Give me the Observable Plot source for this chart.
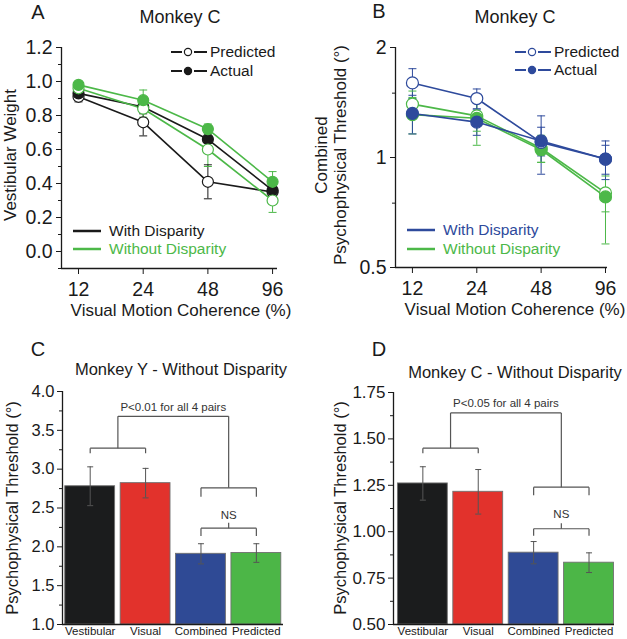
<!DOCTYPE html>
<html><head><meta charset="utf-8">
<script src="https://cdn.jsdelivr.net/npm/d3@7"></script>
<script src="https://cdn.jsdelivr.net/npm/@observablehq/plot@0.6"></script>
<style>
body{margin:0;background:#fff;}
#fig{position:relative;width:627px;height:639px;overflow:hidden;font-family:"Liberation Sans",Arial,sans-serif;color:#1a1a1a;background:#fff;}
#fig svg{position:absolute;}
.t{position:absolute;line-height:1;white-space:nowrap;transform:translate(-50%,-50%);}
.l{position:absolute;line-height:1;white-space:nowrap;transform:translate(0,-50%);}
.r{position:absolute;line-height:1;white-space:nowrap;transform:translate(-50%,-50%) rotate(-90deg);}
</style></head><body><div id="fig"></div>
<script>
// ---------- data ----------
const coherence = [12, 24, 48, 96];
// Panel A (Monkey C, vestibular weight)
const aPredWith = [0.91, 0.76, 0.41, 0.35];
const aPredWithErr = [0.03, 0.08, 0.10, 0.05];
const aActWith = [0.93, 0.85, 0.66, 0.36];
const aActWithErr = [0.03, 0.04, 0.04, 0.05];
const aPredWithout = [0.96, 0.84, 0.60, 0.30];
const aPredWithoutErr = [0.03, 0.05, 0.10, 0.07];
const aActWithout = [0.98, 0.89, 0.72, 0.41];
const aActWithoutErr = [0.02, 0.06, 0.03, 0.06];
// Panel B (Monkey C, combined threshold)
const bPredWith = [1.60, 1.45, 1.10, 0.99];
const bPredWithErr = [0.15, 0.09, 0.20, 0.09];
const bActWith = [1.32, 1.25, 1.11, 0.99];
const bActWithErr = [0.16, 0.10, 0.10, 0.12];
const bPredWithout = [1.40, 1.30, 1.06, 0.80];
const bPredWithoutErr = [0.12, 0.12, 0.09, 0.09];
const bActWithout = [1.31, 1.28, 1.05, 0.78];
const bActWithoutErr = [0.15, 0.20, 0.08, 0.20];
// Panels C, D (bar charts)
const cues = ["Vestibular", "Visual", "Combined", "Predicted"];
const cThreshold = [2.78, 2.82, 1.91, 1.92];
const cErr = [0.25, 0.19, 0.13, 0.12];
const dThreshold = [1.26, 1.215, 0.887, 0.833];
const dErr = [0.09, 0.12, 0.06, 0.053];
// tick values
const aYTicks = [0, 0.2, 0.4, 0.6, 0.8, 1.0, 1.2];
const aYMinor = [-0.1, 0.1, 0.3, 0.5, 0.7, 0.9, 1.1];
const bYTicks = [0.5, 1, 2];
const bYMinor = [0.75, 1.5];
const cYTicks = [1.0, 1.5, 2.0, 2.5, 3.0, 3.5, 4.0];
const cYMinor = [1.25, 1.75, 2.25, 2.75, 3.25, 3.75];
const dYTicks = [0.5, 0.75, 1.0, 1.25, 1.5, 1.75];
const dYMinor = [0.625, 0.875, 1.125, 1.375, 1.625];
// significance brackets (cue indices, heights in threshold units)
const cPairs = [{a:0,b:1,y:3.27,leg:0.065},{a:2,b:3,y:2.76,leg:0.115},{a:2,b:3,y:2.24,leg:0.10,stub:0.07,label:"NS",ly:2.40}];
const cTop = {y:3.68, label:"P<0.01 for all 4 pairs", ly:3.79};
const dPairs = [{a:0,b:1,y:1.45,leg:0.027},{a:2,b:3,y:1.24,leg:0.043},{a:2,b:3,y:1.016,leg:0.038,stub:0.03,label:"NS",ly:1.095}];
const dTop = {y:1.64, label:"P<0.05 for all 4 pairs", ly:1.69};

// ---------- styles ----------
const FONT = "Liberation Sans, Arial, sans-serif";
const INK = "#1a1a1a";
const GREEN = "#4cb848", BLUE = "#2e4a9c", BLACK = "#1a1a1a";
const barColors = ["#1b1c1d", "#e2322c", "#2f4a95", "#4cb647"];
const colA = {"With Disparity": BLACK, "Without Disparity": GREEN};
const colB = {"With Disparity": BLUE, "Without Disparity": GREEN};
const cap = {draw(ctx, size) { const r = Math.sqrt(size / Math.PI); ctx.moveTo(-r, 0); ctx.lineTo(r, 0); }};

function seriesRows(list) {
  return list.flatMap(s => coherence.map((c, i) => ({key: s.cond + "|" + s.type, cond: s.cond, type: s.type, x: c, y: s.v[i], e: s.e[i]})));
}
const rowsA = seriesRows([
  {cond: "With Disparity", type: "Predicted", v: aPredWith, e: aPredWithErr},
  {cond: "With Disparity", type: "Actual", v: aActWith, e: aActWithErr},
  {cond: "Without Disparity", type: "Predicted", v: aPredWithout, e: aPredWithoutErr},
  {cond: "Without Disparity", type: "Actual", v: aActWithout, e: aActWithoutErr}
]);
const rowsB = seriesRows([
  {cond: "Without Disparity", type: "Predicted", v: bPredWithout, e: bPredWithoutErr},
  {cond: "Without Disparity", type: "Actual", v: bActWithout, e: bActWithoutErr},
  {cond: "With Disparity", type: "Predicted", v: bPredWith, e: bPredWithErr},
  {cond: "With Disparity", type: "Actual", v: bActWith, e: bActWithErr}
]);

function linePanel(rows, col, o) {
  const c = d => col[d.cond];
  return Plot.plot({
    width: o.width, height: 320,
    marginLeft: o.ml, marginRight: o.mr, marginTop: 47, marginBottom: o.mb,
    style: {fontFamily: FONT, color: INK, background: "white"},
    color: {type: "identity"},
    x: {type: "log", domain: o.xDomain},
    y: o.y,
    marks: [
      Plot.ruleX([o.xDomain[0]], {stroke: INK, strokeWidth: 1.3}),
      Plot.ruleY([o.y.domain[0]], {stroke: INK, strokeWidth: 1.3}),
      Plot.axisX({ticks: coherence, tickFormat: d => String(d), tickSize: 6, tickPadding: 8, fontSize: 19.5, label: null}),
      Plot.axisY({ticks: o.yTicks, tickFormat: o.yFmt, tickSize: 5, tickPadding: 4, fontSize: 19.5, label: null}),
      Plot.axisY({ticks: o.yMinor, tickFormat: () => "", tickSize: 3, label: null}),
      Plot.line(rows, {x: "x", y: "y", z: "key", stroke: c, strokeWidth: 1.6}),
      Plot.ruleX(rows, {x: "x", y1: d => d.y - d.e, y2: d => d.y + d.e, stroke: c, strokeWidth: 1}),
      Plot.dot(rows, {x: "x", y: d => d.y + d.e, symbol: cap, r: 4, stroke: c, strokeWidth: 1, fill: "none"}),
      Plot.dot(rows, {x: "x", y: d => d.y - d.e, symbol: cap, r: 4, stroke: c, strokeWidth: 1, fill: "none"}),
      Plot.dot(rows, {x: "x", y: "y", r: o.r, stroke: c, strokeWidth: 1.2, fill: d => d.type === "Predicted" ? "white" : col[d.cond]})
    ]
  });
}

function barPanel(vals, errs, o) {
  const rows = cues.map((cue, i) => ({i, cue, v: vals[i], e: errs[i]}));
  const pairs = o.pairs, top = o.top;
  const segs = [];
  for (const p of pairs) {
    segs.push({x1: p.a, x2: p.b, y1: p.y, y2: p.y});
    segs.push({x1: p.a, x2: p.a, y1: p.y, y2: p.y - p.leg});
    segs.push({x1: p.b, x2: p.b, y1: p.y, y2: p.y - p.leg});
    if (p.stub) segs.push({x1: (p.a + p.b) / 2, x2: (p.a + p.b) / 2, y1: p.y, y2: p.y + p.stub});
  }
  const m0 = (pairs[0].a + pairs[0].b) / 2, m1 = (pairs[1].a + pairs[1].b) / 2;
  segs.push({x1: m0, x2: m1, y1: top.y, y2: top.y}, {x1: m0, x2: m0, y1: top.y, y2: pairs[0].y}, {x1: m1, x2: m1, y1: top.y, y2: pairs[1].y});
  const labels = [{x: (m0 + m1) / 2, y: top.ly, text: top.label}].concat(pairs.filter(p => p.label).map(p => ({x: (p.a + p.b) / 2, y: p.ly, text: p.label})));
  const y0 = o.yDomain[0];
  return Plot.plot({
    width: o.width, height: 319,
    marginLeft: o.ml, marginRight: o.mr, marginTop: o.mt, marginBottom: 15,
    style: {fontFamily: FONT, color: INK, background: "white"},
    color: {type: "identity"},
    x: {domain: o.xDomain},
    y: {domain: o.yDomain},
    marks: [
      Plot.rect(rows, {x1: d => d.i - 0.45, x2: d => d.i + 0.45, y1: d => y0, y2: "v", fill: d => barColors[d.i], stroke: "#707070", strokeWidth: 0.9}),
      Plot.ruleX(rows, {x: "i", y1: d => d.v - d.e, y2: d => d.v + d.e, stroke: "#555", strokeWidth: 1}),
      Plot.dot(rows, {x: "i", y: d => d.v + d.e, symbol: cap, r: 3, stroke: "#555", strokeWidth: 1, fill: "none"}),
      Plot.dot(rows, {x: "i", y: d => d.v - d.e, symbol: cap, r: 3, stroke: "#555", strokeWidth: 1, fill: "none"}),
      Plot.link(segs, {x1: "x1", x2: "x2", y1: "y1", y2: "y2", stroke: "#555", strokeWidth: 1.2}),
      Plot.text(labels, {x: "x", y: "y", text: "text", fontSize: 11.5, fill: "#333"}),
      Plot.ruleX([o.xDomain[0]], {stroke: INK, strokeWidth: 1.3}),
      Plot.ruleY([y0], {stroke: INK, strokeWidth: 1.3}),
      Plot.axisX({ticks: [0, 1, 2, 3], tickFormat: i => cues[i], tickSize: 0, tickPadding: 2, fontSize: 11.5, label: null}),
      Plot.axisY({ticks: o.yTicks, tickFormat: o.yFmt, tickSize: 5, tickPadding: 3, fontSize: o.fs, label: null}),
      Plot.axisY({ticks: o.yMinor, tickFormat: () => "", tickSize: 3, label: null})
    ]
  });
}

const fig = document.getElementById("fig");
function place(svg, left, top) { svg.style.left = left + "px"; svg.style.top = top + "px"; fig.appendChild(svg); }

place(linePanel(rowsA, colA, {width: 313, ml: 61, mr: 36, mb: 52, r: 5.5, xDomain: [10, 101.2],
  y: {domain: [-0.1, 1.2]}, yTicks: aYTicks, yMinor: aYMinor, yFmt: d => d.toFixed(1)}), 0, 0);
place(linePanel(rowsB, colB, {width: 314, ml: 82, mr: 20, mb: 53, r: 6, xDomain: [10, 98.1],
  y: {type: "log", domain: [0.5, 2]}, yTicks: bYTicks, yMinor: bYMinor, yFmt: d => String(d)}), 313, 0);
place(barPanel(cThreshold, cErr, {width: 313, ml: 62, mr: 30, mt: 71, xDomain: [-0.5, 3.49], yDomain: [1, 4],
  yTicks: cYTicks, yMinor: cYMinor, yFmt: d => d.toFixed(1), fs: 16.5, pairs: cPairs, top: cTop}), 0, 320);
place(barPanel(dThreshold, dErr, {width: 314, ml: 80, mr: 13, mt: 72, xDomain: [-0.53, 3.46], yDomain: [0.5, 1.75],
  yTicks: dYTicks, yMinor: dYMinor, yFmt: d => d.toFixed(2), fs: 17, pairs: dPairs, top: dTop}), 313, 320);

// ---------- text ----------
function addText(txt, x, y, size, cls, color) {
  const d = document.createElement("div");
  d.className = cls || "t"; d.textContent = txt;
  d.style.left = x + "px"; d.style.top = y + "px"; d.style.fontSize = size + "px"; d.style.color = color || INK;
  fig.appendChild(d);
}
addText("A", 38, 12, 20); addText("Monkey C", 180, 17, 18);
addText("B", 379, 11, 20); addText("Monkey C", 515, 17, 18);
addText("C", 38, 349, 20); addText("Monkey Y - Without Disparity", 181, 369, 16.5);
addText("D", 379, 349, 20); addText("Monkey C - Without Disparity", 515, 372, 16.5);
addText("Visual Motion Coherence (%)", 181, 310, 17);
addText("Visual Motion Coherence (%)", 515, 309, 17);
addText("Vestibular Weight", 10, 155, 17, "r");
addText("Combined", 321, 155, 17, "r");
addText("Psychophysical Threshold (°)", 340, 155, 17, "r");
addText("Psychophysical Threshold (°)", 12, 508, 16.5, "r");
addText("Psychophysical Threshold (°)", 340, 508, 16.5, "r");

// ---------- legends ----------
const NS = "http://www.w3.org/2000/svg";
const ov = document.createElementNS(NS, "svg");
ov.setAttribute("width", 627); ov.setAttribute("height", 639);
ov.style.cssText = "position:absolute;left:0;top:0;pointer-events:none";
fig.appendChild(ov);
function el(tag, attrs) { const e = document.createElementNS(NS, tag); for (const k in attrs) e.setAttribute(k, attrs[k]); ov.appendChild(e); }
function typeLegend(x0, color, ys) {
  [["Predicted", "white"], ["Actual", color]].forEach(([name, fill], k) => {
    const y = ys[k];
    el("line", {x1: x0, x2: x0 + 11, y1: y, y2: y, stroke: color, "stroke-width": 2});
    el("line", {x1: x0 + 23, x2: x0 + 36, y1: y, y2: y, stroke: color, "stroke-width": 2});
    el("circle", {cx: x0 + 17, cy: y, r: 3.6, fill, stroke: color, "stroke-width": 1.2});
    addText(name, x0 + 39, y, 15.5, "l");
  });
}
function condLegend(x0, colors, ys) {
  [["With Disparity", colors[0]], ["Without Disparity", colors[1]]].forEach(([name, c], k) => {
    el("line", {x1: x0, x2: x0 + 28, y1: ys[k], y2: ys[k], stroke: c, "stroke-width": 2.5});
    addText(name, x0 + 36, ys[k], 15.5, "l", c);
  });
}
typeLegend(171, BLACK, [52, 71]);
typeLegend(515, BLUE, [52, 70]);
condLegend(73, [BLACK, GREEN], [231, 249]);
condLegend(407, [BLUE, GREEN], [230, 249]);
</script></body></html>
